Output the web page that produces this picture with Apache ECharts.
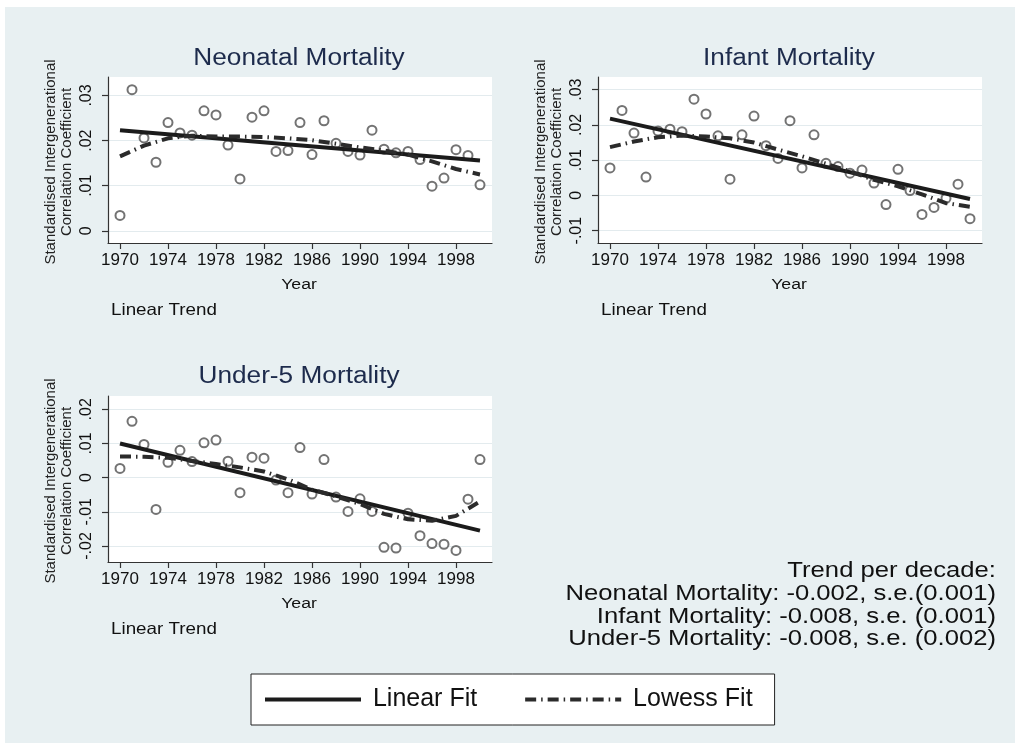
<!DOCTYPE html>
<html>
<head>
<meta charset="utf-8">
<title>Intergenerational correlation by year</title>
<script src="https://cdn.jsdelivr.net/npm/echarts@6/dist/echarts.min.js"></script>
<style>
  html, body { margin: 0; padding: 0; background: #fff; }
  #bg { position: absolute; left: 5px; top: 7px; width: 1010px; height: 736px; background: #e8f0f2; }
  #main { position: absolute; left: 0; top: 0; width: 1015px; height: 743px; }
</style>
</head>
<body>
<div id="bg"></div>
<div id="main"></div>
<script>
// data
var years = [1970, 1971, 1972, 1973, 1974, 1975, 1976, 1977, 1978, 1979,
             1980, 1981, 1982, 1983, 1984, 1985, 1986, 1987, 1988, 1989,
             1990, 1991, 1992, 1993, 1994, 1995, 1996, 1997, 1998, 1999, 2000];

var neonatal = [.0034, .0313, .0206, .0152, .0240, .0217, .0212, .0266, .0257, .0190,
                .0115, .0252, .0266, .0176, .0178, .0240, .0169, .0244, .0194, .0176,
                .0168, .0223, .0181, .0173, .0176, .0158, .0099, .0117, .0180, .0167, .0102];
var infant = [.0078, .0241, .0177, .0052, .0183, .0188, .0181, .0273, .0231, .0169,
              .0046, .0172, .0225, .0141, .0105, .0212, .0078, .0172, .0091, .0082,
              .0063, .0072, .0035, -.0026, .0074, .0014, -.0054, -.0034, -.0008, .0032, -.0066];
var under5 = [.0027, .0165, .0097, -.0093, .0045, .0080, .0047, .0102, .0110, .0048,
              -.0044, .0060, .0057, -.0007, -.0044, .0088, -.0048, .0053, -.0057, -.0099,
              -.0062, -.0099, -.0204, -.0206, -.0104, -.0170, -.0193, -.0195, -.0213, -.0063, .0053];

// linear fit end points
var fitYears = [1970, 2000];
var neonatalFit = [.0223, .0156];
var infantFit = [.0218, -.0010];
var under5Fit = [.0100, -.0155];

// lowess curve
var lowessYears = [1970, 1972, 1974, 1976, 1978, 1980, 1982, 1984, 1986, 1988, 1990, 1992, 1994, 1996, 1998, 2000];
var neonatalLowess = [.0165, .0189, .0205, .0211, .0209, .0209, .0208, .0205, .0201, .0193, .0185, .0178, .0169, .0154, .0137, .0125];
var infantLowess = [.0137, .0153, .0165, .0170, .0167, .0162, .0150, .0130, .0111, .0090, .0068, .0044, .0026, .0003, -.0022, -.0032];
var under5Lowess = [.0062, .0061, .0058, .0049, .0040, .0030, .0018, -.0005, -.0035, -.0055, -.0077, -.0106, -.0122, -.0126, -.0112, -.0070];

// tick labels
var xTicks = [1970, 1974, 1978, 1982, 1986, 1990, 1994, 1998];
var yTicks1 = [0, .01, .02, .03];
var yTicks2 = [-.01, 0, .01, .02, .03];
var yTicks3 = [-.02, -.01, 0, .01, .02];

var titles = ['Neonatal Mortality', 'Infant Mortality', 'Under-5 Mortality'];
var trendText = ['Trend per decade:',
  'Neonatal Mortality: -0.002, s.e.(0.001)',
  'Infant Mortality: -0.008, s.e. (0.001)',
  'Under-5 Mortality: -0.008, s.e. (0.002)'];

var FONT = '"Liberation Sans", Arial, sans-serif';
var AXIS = '#333333';

var chart = echarts.init(document.getElementById('main'));

// plot areas: [left, top, width, height] and y range
var grids = [
  { left: 108, top: 77, width: 384, height: 166, min: -0.0027, max: 0.0341, ticks: yTicks1 },
  { left: 598, top: 77, width: 384, height: 166, min: -0.0135, max: 0.0336, ticks: yTicks2 },
  { left: 108, top: 396, width: 384, height: 166, min: -0.0247, max: 0.0239, ticks: yTicks3 }
];

function stataNum(v) {
  if (v === 0) return '0';
  return String(v).replace('0.', '.');
}

function pairs(xs, ys) {
  return xs.map(function (x, i) { return [x, ys[i]]; });
}

function panelSeries(idx, pts, fit, low) {
  return [
    {
      type: 'scatter', name: 'Data', xAxisIndex: idx, yAxisIndex: idx,
      data: pairs(years, pts), symbol: 'emptyCircle', symbolSize: 9,
      itemStyle: { color: '#505050', borderWidth: 1.3 }, silent: true, z: 2
    },
    {
      type: 'line', name: 'Linear Fit', xAxisIndex: idx, yAxisIndex: idx,
      data: pairs(fitYears, fit), symbol: 'none', silent: true,
      itemStyle: { color: '#1b1b1b' },
      lineStyle: { color: '#1b1b1b', width: 4 }, z: 3
    },
    {
      type: 'line', name: 'Lowess Fit', xAxisIndex: idx, yAxisIndex: idx,
      data: pairs(lowessYears, low), symbol: 'none', silent: true,
      itemStyle: { color: '#2b2b2b' },
      lineStyle: { color: '#2b2b2b', width: 4, type: [11, 5, 1.5, 5] }, z: 4
    }
  ];
}

var option = {
  animation: false,
  backgroundColor: 'transparent',
  grid: grids.map(function (g) {
    return {
      left: g.left, top: g.top, width: g.width, height: g.height,
      show: true, backgroundColor: '#ffffff', borderWidth: 0
    };
  }),
  xAxis: grids.map(function (g, i) {
    return {
      type: 'value', gridIndex: i, min: 1969, max: 2001,
      axisLine: { show: true, onZero: false, lineStyle: { color: AXIS, width: 1.2 } },
      axisTick: { show: true, customValues: xTicks, length: 6, lineStyle: { color: AXIS, width: 1.2 } },
      axisLabel: {
        customValues: xTicks, fontSize: 17, fontFamily: FONT, color: '#111', margin: 9,
        formatter: function (v) { return String(v); }
      },
      splitLine: { show: false }
    };
  }),
  yAxis: grids.map(function (g, i) {
    return {
      type: 'value', gridIndex: i, min: g.min, max: g.max,
      axisLine: { show: true, onZero: false, lineStyle: { color: AXIS, width: 1.2 } },
      axisTick: { show: true, customValues: g.ticks, length: 6, lineStyle: { color: AXIS, width: 1.2 } },
      axisLabel: {
        customValues: g.ticks, rotate: 90, fontSize: 16, fontFamily: FONT,
        color: '#111', margin: 13, formatter: stataNum
      },
      splitLine: { show: true, lineStyle: { color: '#e3ebee', width: 1 } }
    };
  }),
  legend: {
    data: ['Linear Fit', 'Lowess Fit'],
    selectedMode: false,
    left: 251, top: 674,
    padding: [13, 22, 13, 12],
    itemGap: 46,
    itemWidth: 96, itemHeight: 14,
    backgroundColor: '#ffffff', borderColor: '#222', borderWidth: 1,
    formatter: function (name) { return ' ' + name; },
    itemStyle: { opacity: 0 },
    lineStyle: { width: 4 },
    textStyle: { fontSize: 25, fontFamily: FONT, color: '#111' }
  },
  graphic: [],
  series: [].concat(
    panelSeries(0, neonatal, neonatalFit, neonatalLowess),
    panelSeries(1, infant, infantFit, infantLowess),
    panelSeries(2, under5, under5Fit, under5Lowess)
  )
};

// titles and axis texts
var titlePos = [[299, 59], [789, 59], [299, 377]];
var yearPos = [[299, 285], [789, 285], [299, 604]];
var notePos = [[111, 310], [601, 310], [111, 629]];
var yTitlePos = [[59, 162], [549, 162], [59, 481]];

for (var i = 0; i < 3; i++) {
  option.graphic.push({
    type: 'text', x: titlePos[i][0], y: titlePos[i][1], scaleX: 1.14,
    style: { text: titles[i], font: '23px ' + FONT, fill: '#1d2b4c',
             textAlign: 'center', textVerticalAlign: 'middle', align: 'center', verticalAlign: 'middle' }
  });
  option.graphic.push({
    type: 'text', x: yearPos[i][0], y: yearPos[i][1], scaleX: 1.14,
    style: { text: 'Year', font: '15.5px ' + FONT, fill: '#111',
             textAlign: 'center', textVerticalAlign: 'middle', align: 'center', verticalAlign: 'middle' }
  });
  option.graphic.push({
    type: 'text', x: notePos[i][0], y: notePos[i][1], scaleX: 1.14,
    style: { text: 'Linear Trend', font: '16.5px ' + FONT, fill: '#111',
             textAlign: 'left', textVerticalAlign: 'middle', align: 'left', verticalAlign: 'middle' }
  });
  option.graphic.push({
    type: 'text', x: yTitlePos[i][0], y: yTitlePos[i][1], rotation: Math.PI / 2,
    style: { text: 'Standardised Intergenerational\nCorrelation Coefficient', font: '15px ' + FONT,
             fill: '#222', lineHeight: 16,
             textAlign: 'center', textVerticalAlign: 'middle', align: 'center', verticalAlign: 'middle' }
  });
}

option.graphic.push({
  type: 'text', x: 996, y: 605, scaleX: 1.14,
  style: { text: trendText.join('\n'), font: '22.5px ' + FONT, fill: '#111', lineHeight: 22.8,
           textAlign: 'right', textVerticalAlign: 'middle', align: 'right', verticalAlign: 'middle' }
});

chart.setOption(option);
</script>
</body>
</html>
